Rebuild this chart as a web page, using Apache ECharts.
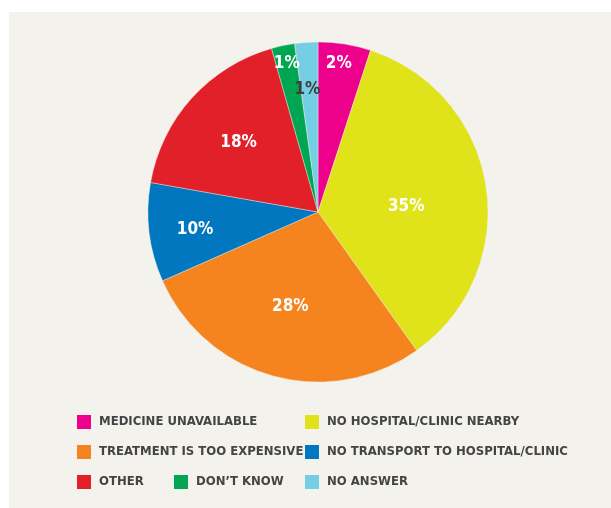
<!DOCTYPE html>
<html>
<head>
<meta charset="utf-8">
<script src="https://cdn.jsdelivr.net/npm/echarts@6/dist/echarts.min.js"></script>
<style>
html, body {
  margin: 0;
  padding: 0;
  background: #ffffff;
}
#wrap {
  position: relative;
  width: 611px;
  height: 508px;
  background: #ffffff;
}
#pieChart {
  position: absolute;
  left: 9px;
  top: 12px;
  width: 602px;
  height: 496px;
}
</style>
</head>
<body>
<div id="wrap">
  <div id="pieChart"></div>
</div>
<script>
// categories, clockwise from 12 o'clock
const categories = [
  'MEDICINE UNAVAILABLE',
  'NO HOSPITAL/CLINIC NEARBY',
  'TREATMENT IS TOO EXPENSIVE',
  'NO TRANSPORT TO HOSPITAL/CLINIC',
  'OTHER',
  'DON’T KNOW',
  'NO ANSWER'
];
// slice sizes as drawn in the picture
const values = [5.0, 35.1, 28.2, 9.4, 17.8, 2.2, 2.2];
// percentages printed on the slices
const sliceLabels = ['2%', '35%', '28%', '10%', '18%', '1%', '1%'];

const colors = ['#ec008c', '#e0e21a', '#f5841f', '#0077bf', '#e2202a', '#00a651', '#75cee3'];
// where each label sits: fraction of radius, and turn (deg) off the slice middle
const labelRadius = [0.88, 0.52, 0.58, 0.73, 0.62, 0.89, 0.72];
const labelTurn = [-1, 5, 1, -1, -1, 0, -1];

const font = '"Liberation Sans Narrow", "DejaVu Sans Condensed", sans-serif';
const pieCenter = [309, 200];
const pieRadius = 170;

let pieChart = echarts.init(document.getElementById('pieChart'));

const legendBase = {
  orient: 'vertical',
  padding: 0,
  itemWidth: 16,
  itemHeight: 16,
  itemGap: 12,
  icon: 'rect',
  selectedMode: false,
  textStyle: {
    color: '#444444',
    fontFamily: font,
    fontWeight: 'bold',
    fontSize: 13,
    lineHeight: 16,
    padding: [0, 0, 0, 2]
  }
};

let option = {
  backgroundColor: '#f3f2ed',
  color: colors,
  legend: [
    Object.assign({}, legendBase, { left: 66, top: 401, data: [categories[0], categories[2], categories[4]] }),
    Object.assign({}, legendBase, { left: 163, top: 461, data: [categories[5]] }),
    Object.assign({}, legendBase, { left: 294, top: 401, data: [categories[1], categories[3], categories[6]] })
  ],
  series: [
    {
      type: 'pie',
      center: pieCenter,
      radius: pieRadius,
      startAngle: 90,
      clockwise: true,
      avoidLabelOverlap: false,
      animation: false,
      itemStyle: {
        borderColor: '#f3f2ed',
        borderWidth: 0.4
      },
      label: {
        show: true,
        position: 'inside',
        formatter: (p) => sliceLabels[p.dataIndex],
        color: '#ffffff',
        fontFamily: font,
        fontWeight: 'bold',
        fontSize: 17
      },
      labelLine: { show: false },
      labelLayout: (p) => {
        const r = p.labelRect;
        let dx = r.x + r.width / 2 - pieCenter[0];
        let dy = r.y + r.height / 2 - pieCenter[1];
        const len = Math.sqrt(dx * dx + dy * dy);
        dx /= len;
        dy /= len;
        const t = labelTurn[p.dataIndex] * Math.PI / 180;
        const ux = dx * Math.cos(t) - dy * Math.sin(t);
        const uy = dx * Math.sin(t) + dy * Math.cos(t);
        const d = labelRadius[p.dataIndex] * pieRadius;
        return {
          x: pieCenter[0] + ux * d,
          y: pieCenter[1] + uy * d
        };
      },
      data: categories.map((name, i) => {
        const item = { name: name, value: values[i] };
        if (i === 6) {
          item.label = { color: '#3d3d3d' };
        }
        return item;
      })
    }
  ]
};

pieChart.setOption(option);
</script>
</body>
</html>
